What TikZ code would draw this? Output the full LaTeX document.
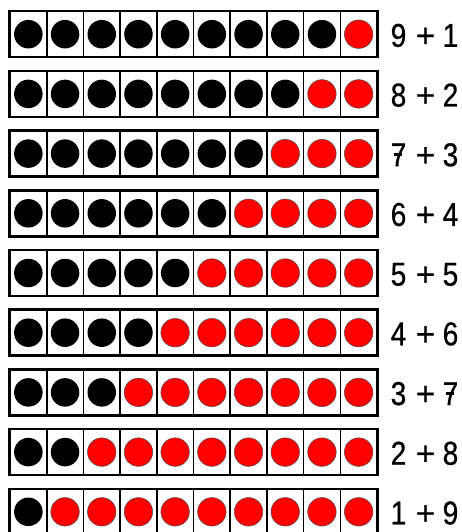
\documentclass[tikz,border=0pt]{standalone}
\usepackage{fontspec}
\setmainfont{Liberation Sans}
\newfontfamily\sumfont{Liberation Sans}[FakeBold=0.7]
\newcommand{\narrowdigit}[1]{\scalebox{0.85}[1]{#1}}
\begin{document}
\begin{tikzpicture}[x=1pt,y=-1pt,
  cellbox/.style={draw=black, line width=1.6pt, minimum width=36.7pt, minimum height=45pt, inner sep=0pt, fill=white},
  dotblack/.style={circle, fill=black, minimum size=28.5pt, inner sep=0pt},
  dotred/.style={circle, fill=red, draw=black!70, line width=0.5pt, minimum size=28.5pt, inner sep=0pt},
  framebox/.style={draw=black, line width=2pt},
  sumlabel/.style={anchor=base, inner sep=0pt, font=\fontsize{33}{33}\sumfont},
  sevenbar/.style={line width=2.6pt}]
\useasboundingbox (0,0) rectangle (462,532);
\foreach \r in {0,...,8}{
  \pgfmathsetmacro{\yc}{11.7+\r*59.7+22.5}
  \pgfmathtruncatemacro{\nb}{9-\r}
  \pgfmathtruncatemacro{\nr}{\r+1}
  \foreach \c in {1,...,10}{
    \node[cellbox] (c\r-\c) at ({10+(\c-0.5)*36.7},\yc) {};
    \ifnum\c>\nb
      \node[dotred] (d\r-\c) at (c\r-\c) {};
    \else
      \node[dotblack] (d\r-\c) at (c\r-\c) {};
    \fi
  }
  \draw[framebox] (c\r-1.north west) rectangle (c\r-10.south east);
  \node[sumlabel] (a\r) at (398.5,\yc+12.6) {\narrowdigit{\nb}};
  \node[sumlabel] (p\r) at (425.5,\yc+12.6) {+};
  \node[sumlabel] (b\r) at (450.5,\yc+12.6) {\narrowdigit{\nr}};
}
\draw[sevenbar] ([xshift=-5pt,yshift=11.6pt]a2.base) -- ([xshift=3.5pt,yshift=11.6pt]a2.base);
\draw[sevenbar] ([xshift=-5pt,yshift=11.6pt]b6.base) -- ([xshift=3.5pt,yshift=11.6pt]b6.base);
\end{tikzpicture}
\end{document}
